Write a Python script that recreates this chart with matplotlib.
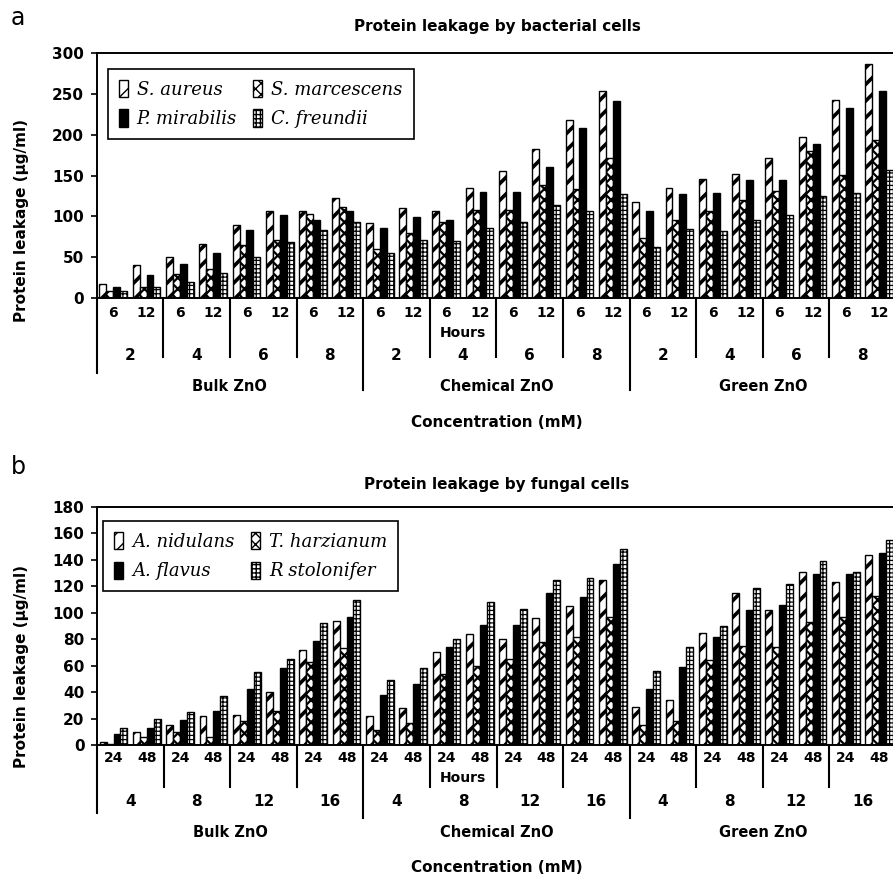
import matplotlib
matplotlib.use('Agg')
import matplotlib.pyplot as plt

# ---------------- dados ----------------
zno_types = ["Bulk ZnO", "Chemical ZnO", "Green ZnO"]

# painel a: bactérias (ordem: tipo -> concentração -> hora)
bact_conc = ["2", "4", "6", "8"]
bact_hours = ["6", "12"]
bact_species = ["S. aureus", "S. marcescens", "P. mirabilis", "C. freundii"]
s_aureus = [17, 41, 50, 66, 89, 106, 106, 122,
            92, 110, 107, 135, 156, 183, 218, 254,
            117, 135, 146, 152, 171, 197, 242, 287]
s_marcescens = [8, 14, 30, 35, 65, 71, 103, 111,
                60, 80, 93, 108, 108, 138, 133, 171,
                73, 96, 107, 120, 131, 180, 151, 194]
p_mirabilis = [13, 28, 42, 55, 83, 102, 95, 107,
               86, 99, 96, 130, 130, 160, 208, 241,
               107, 127, 129, 144, 144, 188, 233, 254]
c_freundii = [8, 13, 20, 31, 50, 68, 83, 93,
              55, 71, 70, 86, 93, 114, 107, 127,
              62, 84, 82, 96, 102, 125, 129, 157]

# painel b: fungos
fung_conc = ["4", "8", "12", "16"]
fung_hours = ["24", "48"]
fung_species = ["A. nidulans", "T. harzianum", "A. flavus", "R stolonifer"]
a_nidulans = [2, 10, 15, 22, 23, 40, 72, 94,
              22, 28, 70, 84, 80, 96, 105, 125,
              29, 34, 85, 115, 102, 131, 123, 144]
t_harzianum = [1, 6, 10, 6, 18, 26, 63, 73,
               11, 17, 54, 60, 65, 78, 82, 97,
               15, 18, 64, 75, 74, 93, 97, 113]
a_flavus = [8, 13, 19, 26, 42, 58, 79, 97,
            38, 46, 74, 91, 91, 115, 112, 137,
            42, 59, 82, 102, 106, 129, 129, 145]
r_stolonifer = [13, 20, 25, 37, 55, 65, 92, 110,
                49, 58, 80, 108, 103, 125, 126, 148,
                56, 74, 90, 119, 122, 139, 131, 155]

# ---------------- estilo ----------------
HATCHES = ['//', 'xxx', '', '++++']
FACES = ['white', 'white', 'black', 'white']
HATCH_LW = [2.6, 1.6, 1.0, 0.9]
BAR_W = 0.104
BAR_OFF = 0.04

W, H = 893, 876
fig = plt.figure(figsize=(W / 100, H / 100), dpi=100)


def px_axes(left, top, right, bottom):
    return fig.add_axes([left / W, 1 - bottom / H, (right - left) / W, (bottom - top) / H])


def draw_panel(ax, series, species, conc, hours, ymax, ystep, ys, leg_anchor):
    n_groups = len(series[0])
    for j, vals in enumerate(series):
        xs = []
        for k in range(n_groups):
            block, hr = divmod(k, 2)
            xs.append(block + 0.5 * hr + BAR_OFF + j * BAR_W)
        bars = ax.bar(xs, vals, width=BAR_W, align='edge', color=FACES[j],
                      edgecolor='black', linewidth=1.0, hatch=HATCHES[j] or None,
                      label=species[j])
        for b in bars:
            if hasattr(b, 'set_hatch_linewidth'):
                b.set_hatch_linewidth(HATCH_LW[j])

    ax.set_xlim(0, 12)
    ax.set_ylim(0, ymax)
    ax.set_yticks(range(0, ymax + 1, ystep))
    ax.set_xticks([])
    for lbl in ax.get_yticklabels():
        lbl.set_fontweight('bold')
        lbl.set_fontsize(11)
    ax.tick_params(axis='y', length=4, width=1.2, pad=5)
    ax.spines['right'].set_visible(False)
    for s in ('left', 'bottom', 'top'):
        ax.spines[s].set_linewidth(1.4)

    tr = ax.get_xaxis_transform()
    txt = dict(transform=tr, ha='center', va='center', fontweight='bold', clip_on=False)
    # horas
    for k in range(n_groups):
        block, hr = divmod(k, 2)
        ax.text(block + 0.5 * hr + 0.25, ys['hour'], hours[hr], fontsize=10, **txt)
    ax.text(5.5, ys['hours_lbl'], "Hours", fontsize=10, **txt)
    # concentrações
    for b in range(12):
        ax.text(b + 0.5, ys['conc'], conc[b % 4], fontsize=11, **txt)
    # separadores
    for b in range(0, 12):
        if b == 0:
            y_end = ys['left_sep']
        elif b % 4 == 0:
            y_end = ys['type_sep']
        else:
            y_end = ys['block_sep']
        ax.plot([b, b], [0, y_end], transform=tr, color='black', lw=1.5, clip_on=False)
    # tipos de ZnO
    for t, name in enumerate(zno_types):
        ax.text(4 * t + 2, ys['type'], name, fontsize=10.5, **txt)
    ax.text(6, ys['xlabel'], "Concentration (mM)", fontsize=11, **txt)

    # legenda: ordem em colunas para ficar 2 por linha
    h, l = ax.get_legend_handles_labels()
    order = [0, 2, 1, 3]
    leg = ax.legend([h[i] for i in order], [l[i] for i in order], ncol=2,
                    loc='upper left', bbox_to_anchor=leg_anchor, borderaxespad=0,
                    prop={'family': 'DejaVu Serif', 'style': 'italic', 'size': 13},
                    handlelength=0.5, handleheight=1.1, handletextpad=0.5,
                    columnspacing=0.9, labelspacing=0.6, borderpad=0.6,
                    fancybox=False, framealpha=1, edgecolor='black')
    leg.get_frame().set_linewidth(1.2)


# ---------------- painel a ----------------
ax_a = px_axes(96.7, 53, 896, 298)
draw_panel(ax_a, [s_aureus, s_marcescens, p_mirabilis, c_freundii], bact_species,
           bact_conc, bact_hours, 300, 50,
           dict(hour=-0.061, hours_lbl=-0.143, conc=-0.233, block_sep=-0.241,
                type_sep=-0.376, left_sep=-0.306, type=-0.363, xlabel=-0.51),
           (0.014, 0.935))

# ---------------- painel b ----------------
ax_b = px_axes(97, 507, 896, 745)
draw_panel(ax_b, [a_nidulans, t_harzianum, a_flavus, r_stolonifer], fung_species,
           fung_conc, fung_hours, 180, 20,
           dict(hour=-0.055, hours_lbl=-0.139, conc=-0.239, block_sep=-0.176,
                type_sep=-0.307, left_sep=-0.286, type=-0.366, xlabel=-0.513),
           (0.008, 0.941))

# títulos e rótulos
fig.text(497 / W, 1 - 27 / H, "Protein leakage by bacterial cells", ha='center', va='center',
         fontsize=11, fontweight='bold')
fig.text(497 / W, 1 - 485 / H, "Protein leakage by fungal cells", ha='center', va='center',
         fontsize=11, fontweight='bold')
fig.text(22 / W, 1 - 220 / H, "Protein leakage (\u00b5g/ml)", rotation=90, ha='center',
         va='center', fontsize=11, fontweight='bold')
fig.text(22 / W, 1 - 666 / H, "Protein leakage (\u00b5g/ml)", rotation=90, ha='center',
         va='center', fontsize=11, fontweight='bold')
fig.text(18 / W, 1 - 18 / H, "a", ha='center', va='center', fontsize=17)
fig.text(18 / W, 1 - 467 / H, "b", ha='center', va='center', fontsize=17)

fig.savefig("out.png", dpi=100)
